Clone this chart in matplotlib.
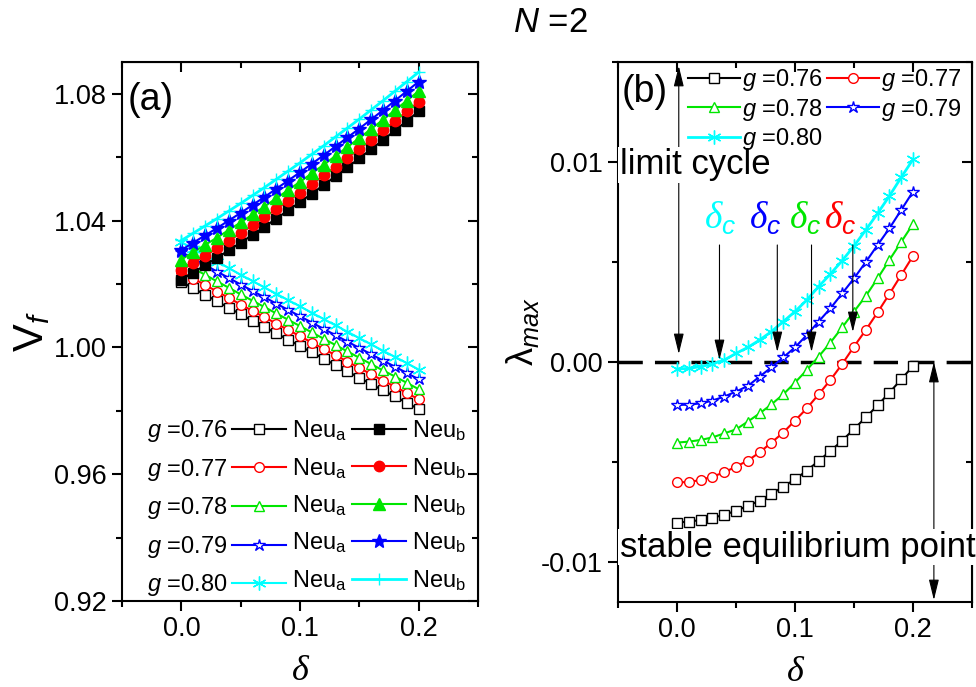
import matplotlib
matplotlib.use('Agg')
import matplotlib.pyplot as plt
from matplotlib.lines import Line2D
from matplotlib.ticker import MultipleLocator, FormatStrFormatter

plt.rcParams['font.family'] = ['Liberation Sans', 'DejaVu Sans']
plt.rcParams['mathtext.fontset'] = 'custom'
plt.rcParams['mathtext.rm'] = 'Liberation Sans'
plt.rcParams['mathtext.it'] = 'Liberation Sans:italic'
plt.rcParams['mathtext.bf'] = 'Liberation Serif:italic'
plt.rcParams['axes.unicode_minus'] = False

# data
delta = [0.00, 0.01, 0.02, 0.03, 0.04, 0.05, 0.06, 0.07, 0.08, 0.09, 0.10,
         0.11, 0.12, 0.13, 0.14, 0.15, 0.16, 0.17, 0.18, 0.19, 0.20]
g_values = ['0.76', '0.77', '0.78', '0.79', '0.80']

# (a) firing voltage of neuron a (lower branch) and neuron b (upper branch)
neu_a_076 = [1.0207, 1.0186, 1.0166, 1.0145, 1.0125, 1.0104, 1.0084, 1.0064, 1.0044, 1.0024, 1.0004,
             0.9984, 0.9964, 0.9944, 0.9924, 0.9904, 0.9884, 0.9864, 0.9845, 0.9825, 0.9805]
neu_a_077 = [1.0238, 1.0217, 1.0197, 1.0176, 1.0156, 1.0135, 1.0115, 1.0095, 1.0075, 1.0055, 1.0035,
             1.0015, 0.9995, 0.9975, 0.9955, 0.9935, 0.9915, 0.9895, 0.9876, 0.9856, 0.9836]
neu_a_078 = [1.0270, 1.0249, 1.0229, 1.0208, 1.0188, 1.0167, 1.0147, 1.0127, 1.0107, 1.0087, 1.0067,
             1.0047, 1.0027, 1.0007, 0.9987, 0.9967, 0.9947, 0.9927, 0.9908, 0.9888, 0.9868]
neu_a_079 = [1.0301, 1.0280, 1.0260, 1.0239, 1.0219, 1.0198, 1.0178, 1.0158, 1.0138, 1.0118, 1.0098,
             1.0078, 1.0058, 1.0038, 1.0018, 0.9998, 0.9978, 0.9958, 0.9939, 0.9919, 0.9899]
neu_a_080 = [1.0332, 1.0311, 1.0291, 1.0270, 1.0250, 1.0229, 1.0209, 1.0189, 1.0169, 1.0149, 1.0129,
             1.0109, 1.0089, 1.0069, 1.0049, 1.0029, 1.0009, 0.9989, 0.9970, 0.9950, 0.9930]

neu_b_076 = [1.0213, 1.0236, 1.0259, 1.0282, 1.0306, 1.0330, 1.0355, 1.0380, 1.0406, 1.0432, 1.0458,
             1.0485, 1.0512, 1.0540, 1.0568, 1.0596, 1.0625, 1.0654, 1.0684, 1.0714, 1.0744]
neu_b_077 = [1.0243, 1.0266, 1.0289, 1.0312, 1.0336, 1.0360, 1.0385, 1.0410, 1.0436, 1.0462, 1.0488,
             1.0515, 1.0542, 1.0570, 1.0598, 1.0626, 1.0655, 1.0684, 1.0714, 1.0744, 1.0775]
neu_b_078 = [1.0277, 1.0300, 1.0323, 1.0346, 1.0370, 1.0394, 1.0419, 1.0444, 1.0470, 1.0496, 1.0522,
             1.0549, 1.0576, 1.0604, 1.0632, 1.0660, 1.0689, 1.0718, 1.0748, 1.0778, 1.0808]
neu_b_079 = [1.0307, 1.0330, 1.0353, 1.0376, 1.0400, 1.0424, 1.0449, 1.0474, 1.0500, 1.0526, 1.0552,
             1.0579, 1.0606, 1.0634, 1.0662, 1.0690, 1.0719, 1.0748, 1.0778, 1.0808, 1.0838]
neu_b_080 = [1.0337, 1.0360, 1.0383, 1.0406, 1.0430, 1.0454, 1.0479, 1.0504, 1.0530, 1.0556, 1.0582,
             1.0609, 1.0636, 1.0664, 1.0692, 1.0720, 1.0749, 1.0778, 1.0808, 1.0838, 1.0868]

# (b) maximal Lyapunov exponent
lam_076 = [-0.00803, -0.00798, -0.00790, -0.00778, -0.00765, -0.00743, -0.00720, -0.00693, -0.00660,
           -0.00623, -0.00587, -0.00543, -0.00495, -0.00445, -0.00393, -0.00335, -0.00277, -0.00217,
           -0.00153, -0.00087, -0.00020]
lam_077 = [-0.00602, -0.00600, -0.00590, -0.00573, -0.00552, -0.00523, -0.00493, -0.00452, -0.00403,
           -0.00353, -0.00293, -0.00232, -0.00162, -0.00090, -0.00010, 0.00077, 0.00160, 0.00248,
           0.00340, 0.00435, 0.00530]
lam_078 = [-0.00403, -0.00398, -0.00390, -0.00377, -0.00357, -0.00337, -0.00298, -0.00257, -0.00212,
           -0.00162, -0.00103, -0.00040, 0.00027, 0.00097, 0.00173, 0.00252, 0.00330, 0.00418,
           0.00510, 0.00600, 0.00690]
lam_079 = [-0.00215, -0.00213, -0.00207, -0.00193, -0.00173, -0.00148, -0.00120, -0.00073, -0.00027,
           0.00023, 0.00073, 0.00135, 0.00202, 0.00268, 0.00343, 0.00418, 0.00500, 0.00585,
           0.00668, 0.00760, 0.00852]
lam_080 = [-0.00035, -0.00032, -0.00023, -0.00010, 0.00010, 0.00043, 0.00073, 0.00110, 0.00152,
           0.00202, 0.00252, 0.00310, 0.00377, 0.00440, 0.00507, 0.00580, 0.00660, 0.00743,
           0.00830, 0.00923, 0.01013]

# critical delta for g = 0.80, 0.79, 0.78, 0.77
delta_c = [0.036, 0.085, 0.114, 0.149]
arrow_tip = [0.0001, 0.0005, 0.0005, 0.0015]
label_x = [0.037, 0.075, 0.109, 0.138]

neu_a = [neu_a_076, neu_a_077, neu_a_078, neu_a_079, neu_a_080]
neu_b = [neu_b_076, neu_b_077, neu_b_078, neu_b_079, neu_b_080]
lam = [lam_076, lam_077, lam_078, lam_079, lam_080]

colors = ['#000000', '#ff0000', '#00e600', '#0000ff', '#00ffff']
open_marks = ['s', 'o', '^', '*', (6, 2, 0)]
fill_marks = ['s', 'o', '^', '*', '+']
open_ms = [6.5, 7, 7.5, 9, 10]
fill_ms = [7, 7.5, 8, 10, 9]

fig = plt.figure(figsize=(9.76, 6.87), dpi=100)
ax1 = fig.add_axes([0.125, 0.1252, 0.3648, 0.7846])
ax2 = fig.add_axes([0.6332, 0.1237, 0.3627, 0.7861])

# ---------- panel (a)
lines_a = []
lines_b = []
for i in range(5):
    la, = ax1.plot(delta, neu_a[i], color=colors[i], marker=open_marks[i], ms=open_ms[i],
                   mfc='white', mec=colors[i], mew=1.0, lw=1.5)
    lines_a.append(la)
for i in range(5):
    lb, = ax1.plot(delta, neu_b[i], color=colors[i], marker=fill_marks[i], ms=fill_ms[i],
                   mfc=colors[i], mec=colors[i], mew=1.0, lw=2.0 if i == 4 else 1.5)
    lines_b.append(lb)

ax1.set_xlim(-0.05, 0.25)
ax1.set_ylim(0.92, 1.09)
ax1.xaxis.set_major_locator(MultipleLocator(0.1))
ax1.xaxis.set_minor_locator(MultipleLocator(0.05))
ax1.yaxis.set_major_locator(MultipleLocator(0.04))
ax1.yaxis.set_minor_locator(MultipleLocator(0.02))
ax1.xaxis.set_major_formatter(FormatStrFormatter('%.1f'))
ax1.yaxis.set_major_formatter(FormatStrFormatter('%.2f'))
ax1.set_xlabel('δ', fontsize=26, family='Liberation Serif', style='italic', labelpad=9)
ax1.set_ylabel('V$_{f}$', fontsize=30, labelpad=1)
ax1.text(0.017, 0.93, '(a)', transform=ax1.transAxes, fontsize=27, ha='left', va='center')

invisible = [Line2D([], [], linestyle='none') for _ in range(5)]
handles = lines_a + lines_b + invisible
labels = (['$g$ =' + g for g in g_values] + ['Neu$_{\\mathrm{a}}$'] * 5 +
          ['Neu$_{\\mathrm{b}}$'] * 5)
ax1.legend(handles, labels, ncol=3, markerfirst=False, loc='lower left',
           bbox_to_anchor=(0.07, 0.005), frameon=False, fontsize=17, handlelength=2.3,
           handletextpad=0.2, columnspacing=0.25, labelspacing=0.53, borderpad=0,
           borderaxespad=0)

# ---------- panel (b)
lines_l = []
for i in range(5):
    ll, = ax2.plot(delta, lam[i], color=colors[i], marker=open_marks[i], ms=open_ms[i],
                   mfc='white', mec=colors[i], mew=1.0, lw=1.5 if i < 4 else 2.0)
    lines_l.append(ll)
ax2.axhline(0, color='black', lw=2.5, ls=(0, (7, 3.5)), zorder=1)

ax2.set_xlim(-0.05, 0.25)
ax2.set_ylim(-0.012, 0.015)
ax2.xaxis.set_major_locator(MultipleLocator(0.1))
ax2.xaxis.set_minor_locator(MultipleLocator(0.05))
ax2.yaxis.set_major_locator(MultipleLocator(0.01))
ax2.yaxis.set_minor_locator(MultipleLocator(0.005))
ax2.xaxis.set_major_formatter(FormatStrFormatter('%.1f'))
ax2.yaxis.set_major_formatter(FormatStrFormatter('%.2f'))
ax2.set_xlabel('δ', fontsize=26, family='Liberation Serif', style='italic', labelpad=9)
ax2.set_ylabel('$\\mathrm{\\lambda}_{max}$', fontsize=26, labelpad=0)
ax2.text(0.011, 0.944, '(b)', transform=ax2.transAxes, fontsize=27, ha='left', va='center')

order = [0, 2, 4, 1, 3]
ax2.legend([lines_l[k] for k in order], ['$g$ =' + g_values[k] for k in order], ncol=2,
           loc='upper left', bbox_to_anchor=(0.19, 0.995), frameon=False, fontsize=17,
           handlelength=2.2, handletextpad=0.1, columnspacing=0.2, labelspacing=0.15,
           borderpad=0.1, borderaxespad=0)

arrow = dict(arrowstyle='-|>,head_length=0.9,head_width=0.22', color='black', lw=0.8,
             shrinkA=0, shrinkB=0, mutation_scale=14)
arrow2 = dict(arrowstyle='<|-|>,head_length=0.9,head_width=0.22', color='black', lw=0.8,
              shrinkA=0, shrinkB=0, mutation_scale=14)
for i, c in enumerate([colors[4], colors[3], colors[2], colors[1]]):
    ax2.annotate('', xy=(delta_c[i], arrow_tip[i]), xytext=(delta_c[i], 0.00585),
                 arrowprops=arrow, zorder=4)
    ax2.text(label_x[i], 0.0072, '$\\mathbf{\\delta}_{c}$', color=c, fontsize=27,
             ha='center', va='center')

ax2.annotate('', xy=(0.0015, 0.0148), xytext=(0.0015, 0.0004), arrowprops=arrow2, zorder=4)
ax2.text(-0.0485, 0.00985, 'limit cycle', fontsize=25, ha='left', va='center', zorder=5,
         bbox=dict(facecolor='white', edgecolor='none', pad=1))
ax2.annotate('', xy=(0.2177, -0.0119), xytext=(0.2177, 0.0), arrowprops=arrow2, zorder=4)
ax2.text(-0.0485, -0.00925, 'stable equilibrium point', fontsize=25, ha='left', va='center',
         zorder=5, bbox=dict(facecolor='white', edgecolor='none', pad=1))

# Origin-like ticks: outward on bottom/left, inward on top/right
for ax in (ax1, ax2):
    for s in ax.spines.values():
        s.set_linewidth(1.5)
    ax.tick_params(which='both', direction='out', width=1.5, labelsize=19.5, pad=4,
                   top=False, right=False)
    ax.tick_params(which='major', length=7)
    ax.tick_params(which='minor', length=4)
    top = ax.secondary_xaxis('top')
    top.xaxis.set_major_locator(MultipleLocator(0.1))
    top.xaxis.set_minor_locator(MultipleLocator(0.05))
    right = ax.secondary_yaxis('right')
    right.yaxis.set_major_locator(ax.yaxis.get_major_locator())
    right.yaxis.set_minor_locator(ax.yaxis.get_minor_locator())
    for sec in (top, right):
        sec.tick_params(which='both', direction='in', width=1.5, labeltop=False, labelright=False)
        sec.tick_params(which='major', length=7)
        sec.tick_params(which='minor', length=4)

fig.text(0.564, 0.967, '$N$ =2', fontsize=25, ha='center', va='center')

fig.savefig('out.png', dpi=100)
